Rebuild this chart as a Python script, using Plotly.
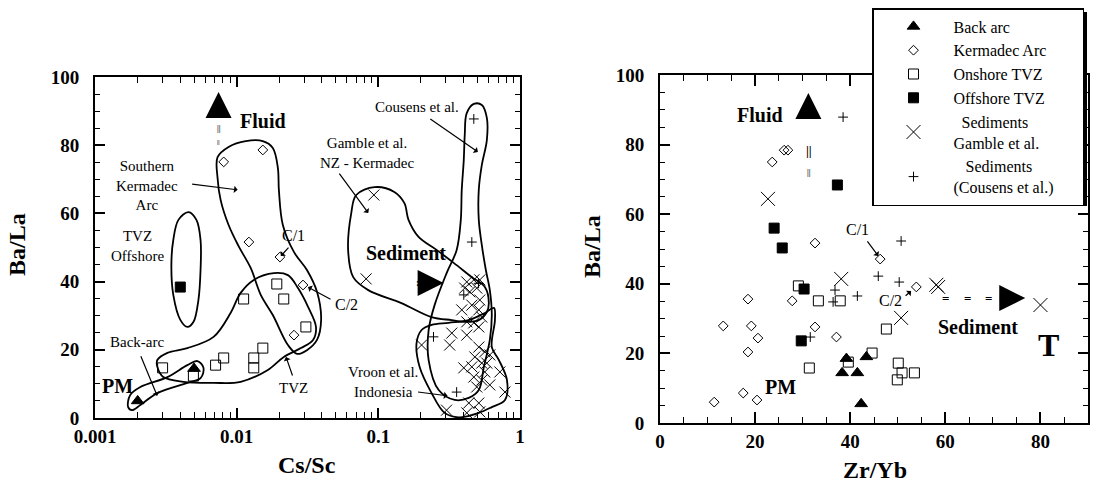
import numpy as np
import plotly.graph_objects as go

FONT = "Liberation Serif"

# ---------------- Left panel: Cs/Sc vs Ba/La ----------------
L_backarc_x = [0.002, 0.005]
L_backarc_y = [5.0, 14.5]
L_kermadec_x = [0.0081, 0.0153, 0.0122, 0.0202, 0.0294, 0.0254]
L_kermadec_y = [75.1, 78.6, 51.6, 47.2, 39.0, 24.3]
L_onshore_x = [0.0030, 0.00495, 0.0071, 0.0081, 0.0112, 0.0132, 0.0132, 0.0153, 0.0192, 0.0215, 0.0308]
L_onshore_y = [14.7, 12.3, 15.5, 17.6, 34.9, 17.6, 14.7, 20.5, 39.3, 34.9, 26.7]
L_offshore_x = [0.004]
L_offshore_y = [38.4]
L_sed_x = [0.093, 0.082,
           0.421, 0.472, 0.520, 0.407, 0.495, 0.442, 0.520, 0.457, 0.388, 0.512,
           0.537, 0.421, 0.472, 0.330, 0.421, 0.512, 0.202, 0.319, 0.512, 0.564,
           0.480, 0.612, 0.537, 0.457, 0.583, 0.401, 0.564, 0.721, 0.472, 0.537,
           0.612, 0.783, 0.495, 0.435, 0.512, 0.520, 0.303, 0.421]
L_sed_y = [65.4, 40.8,
           39.9, 40.5, 40.5, 38.1, 38.1, 37.0, 34.6, 33.1, 31.7, 31.7,
           29.6, 28.2, 27.9, 24.9, 24.3, 26.7, 21.4, 21.4, 20.8, 19.4,
           17.9, 18.5, 16.1, 15.0, 16.1, 14.7, 13.5, 13.5, 12.0, 11.1,
           9.7, 7.6, 9.1, 4.4, 4.4, 1.8, 2.3, 1.5]
L_cousens_x = [0.472, 0.457, 0.401, 0.510, 0.245, 0.357]
L_cousens_y = [87.7, 51.6, 36.1, 39.5, 23.8, 7.6]

# field outlines (left panel), in data units
F_offshore_x = [0.00457, 0.0052, 0.00556, 0.00556, 0.00537, 0.00496, 0.00449, 0.00401, 0.00357, 0.00346, 0.00357, 0.00388, 0.00457]
F_offshore_y = [60.4, 58.1, 52.2, 43.4, 34.6, 28.2, 26.7, 28.7, 36.1, 44.9, 52.2, 58.1, 60.4]
F_kermadec_x = [0.00733, 0.00877, 0.01159, 0.01528, 0.01799, 0.01954, 0.01986, 0.02118, 0.02535, 0.03133, 0.0369,
                0.03945, 0.0369, 0.03133, 0.02667, 0.02301, 0.01799, 0.01479, 0.01256, 0.01032, 0.00877, 0.00771, 0.00733, 0.00733]
F_kermadec_y = [76.5, 79.5, 81.2, 81.2, 79.2, 73.3, 66.9, 56.6, 48.7, 43.4, 37.0,
                28.7, 22.9, 19.9, 18.8, 21.4, 30.2, 36.1, 44.0, 50.4, 56.6, 63.9, 70.4, 76.5]
F_tvz_x = [0.002754, 0.003245, 0.004487, 0.006871, 0.009057, 0.01067, 0.01321, 0.01828, 0.02301, 0.0271, 0.0319,
           0.0363, 0.0346, 0.0284, 0.02153, 0.0166, 0.01067, 0.006871, 0.004207, 0.003034, 0.002754, 0.002754]
F_tvz_y = [17.0, 19.1, 20.5, 23.8, 30.8, 36.7, 40.5, 42.5, 41.9, 38.1, 32.6,
           26.7, 22.9, 20.5, 17.9, 14.1, 10.6, 10.3, 10.6, 12.0, 15.0, 17.0]
F_backarc_x = [0.001714, 0.00177, 0.00209, 0.003245, 0.004487, 0.005284, 0.005834, 0.00556, 0.004487, 0.002754, 0.00209, 0.001828, 0.001714]
F_backarc_y = [3.2, 6.7, 9.1, 12.0, 15.5, 16.7, 14.7, 11.7, 10.3, 7.3, 3.8, 2.3, 3.2]
F_gamble_x = [0.0698, 0.0938, 0.1297, 0.1528, 0.1633, 0.1923, 0.2576, 0.3404, 0.4571, 0.5649, 0.6026,
              0.5834, 0.5117, 0.4074, 0.3296, 0.2377, 0.1455, 0.0849, 0.0665, 0.0612, 0.0644, 0.0698]
F_gamble_y = [65.4, 67.7, 66.3, 63.0, 58.1, 53.1, 49.3, 45.5, 41.3, 38.4, 33.7,
              31.1, 28.7, 28.2, 28.7, 29.6, 33.7, 37.5, 41.3, 49.3, 60.1, 65.4]
F_cousens_x = [0.4207, 0.4721, 0.5377, 0.5834, 0.5834, 0.5377, 0.5117, 0.5117, 0.5377, 0.574, 0.6124, 0.6324, 0.6124,
               0.5559, 0.5117, 0.4345, 0.3459, 0.2667, 0.2265, 0.2265, 0.2495, 0.3034, 0.3573, 0.382, 0.388, 0.401, 0.4074, 0.4207]
F_cousens_y = [89.4, 92.1, 91.8, 88.0, 81.5, 74.2, 66.9, 58.1, 50.7, 43.4, 37.5, 30.2, 22.9,
               15.0, 8.2, 5.9, 5.3, 8.2, 17.0, 25.8, 33.1, 42.5, 49.3, 58.1, 66.9, 75.7, 83.0, 89.4]
F_vroon_x = [0.1862, 0.202, 0.2377, 0.3133, 0.4345, 0.5649, 0.6546, 0.6653, 0.6324, 0.7098, 0.8091, 0.7834,
             0.6324, 0.5117, 0.369, 0.2938, 0.2377, 0.1955, 0.1862]
F_vroon_y = [22.0, 25.8, 27.3, 27.9, 28.7, 30.8, 32.3, 28.7, 20.8, 17.0, 11.1, 5.3,
             3.2, 1.5, 0.2, 1.5, 7.3, 15.0, 22.0]

# ---------------- Right panel: Zr/Yb vs Ba/La ----------------
R_backarc_x = [38.3, 41.5, 43.4, 42.3, 39.2]
R_backarc_y = [14.4, 14.4, 19.0, 5.5, 18.5]
R_kermadec_x = [23.6, 26.1, 26.9, 32.6, 13.3, 18.5, 19.2, 20.6, 18.5, 11.4, 17.5, 20.4, 27.8, 32.6, 37.1, 46.3, 53.9]
R_kermadec_y = [75.0, 78.4, 78.4, 51.7, 27.9, 35.6, 27.9, 24.4, 20.4, 6.0, 8.6, 6.6, 35.1, 27.6, 24.7, 47.1, 39.1]
R_onshore_x = [29.1, 33.3, 31.4, 37.9, 39.6, 44.6, 47.6, 50.1, 50.9, 49.9, 53.5]
R_onshore_y = [39.4, 35.1, 15.8, 35.1, 17.5, 20.1, 27.0, 17.2, 14.4, 12.4, 14.4]
R_offshore_x = [24.0, 25.7, 37.3, 30.3, 29.7]
R_offshore_y = [56.0, 50.3, 68.4, 38.5, 23.6]
R_gamble_x = [22.7, 38.1, 50.7, 58.1, 58.5, 80.0]
R_gamble_y = [64.4, 41.4, 30.2, 39.7, 39.1, 33.9]
R_cousens_x = [38.5, 50.7, 45.9, 50.3, 41.5, 36.8, 36.4, 31.6]
R_cousens_y = [87.9, 52.3, 42.2, 40.5, 36.5, 38.2, 34.8, 24.7]

# ticks / labels
L_xtickvals = [0.001, 0.01, 0.1, 1]
L_xticktext = ["0.001", "0.01", "0.1", "1"]
L_xminor = [m * d for d in (0.001, 0.01, 0.1) for m in range(2, 10)]
Y_tickvals = [0, 20, 40, 60, 80, 100]
R_xtickvals = [0, 20, 40, 60, 80]

legend_names = ["Back arc", "Kermadec Arc", "Onshore TVZ", "Offshore TVZ",
                "&nbsp;&nbsp;Sediments<br>Gamble et al.",
                "&nbsp;&nbsp;&nbsp;Sediments<br>(Cousens et al.)&nbsp;&nbsp;&nbsp;&nbsp;&nbsp;\u2009"]

fig = go.Figure()


def pts(x, y, xa, ya, symbol, size, name=None, show=False):
    m = dict(symbol=symbol, size=size, color="black", line=dict(color="black", width=1))
    fig.add_trace(go.Scatter(x=x, y=y, xaxis=xa, yaxis=ya, mode="markers", marker=m,
                             name=name, showlegend=show))


def outline(x, y):
    fig.add_trace(go.Scatter(x=x, y=y, xaxis="x", yaxis="y", mode="lines",
                             line=dict(color="black", width=1.8, shape="spline", smoothing=1.0),
                             showlegend=False, hoverinfo="skip"))


# right panel (legend)
pts(R_backarc_x, R_backarc_y, "x2", "y2", "triangle-up", 11, legend_names[0], True)
pts(R_kermadec_x, R_kermadec_y, "x2", "y2", "diamond-open", 7.5, legend_names[1], True)
pts(R_onshore_x, R_onshore_y, "x2", "y2", "square-open", 10, legend_names[2], True)
pts(R_offshore_x, R_offshore_y, "x2", "y2", "square", 10, legend_names[3], True)
pts(R_gamble_x, R_gamble_y, "x2", "y2", "x-thin-open", 14, legend_names[4], True)
pts(R_cousens_x, R_cousens_y, "x2", "y2", "cross-thin-open", 7, legend_names[5], True)

# left panel
for fx, fy in [(F_offshore_x, F_offshore_y), (F_kermadec_x, F_kermadec_y), (F_tvz_x, F_tvz_y),
               (F_backarc_x, F_backarc_y), (F_gamble_x, F_gamble_y), (F_cousens_x, F_cousens_y),
               (F_vroon_x, F_vroon_y)]:
    outline(fx, fy)
pts(L_backarc_x, L_backarc_y, "x", "y", "triangle-up", 11)
pts(L_kermadec_x, L_kermadec_y, "x", "y", "diamond-open", 7.5)
pts(L_onshore_x, L_onshore_y, "x", "y", "square-open", 10)
pts(L_offshore_x, L_offshore_y, "x", "y", "square", 10)
pts(L_sed_x, L_sed_y, "x", "y", "x-thin-open", 11)
pts(L_cousens_x, L_cousens_y, "x", "y", "cross-thin-open", 7)

anns = []


def txt(panel, x, y, text, size=15, bold=False):
    xr, yr = ("x", "y") if panel == "L" else ("x2", "y2")
    xv = np.log10(x) if panel == "L" else x
    anns.append(dict(x=xv, y=y, xref=xr, yref=yr, text=text, showarrow=False,
                     xanchor="center", yanchor="middle",
                     font=dict(family=FONT, size=size, color="black", weight="bold" if bold else "normal"),
                     align="center"))


def arrow(panel, x, y, ax, ay, head=1, size=1.0, width=1.2):
    xr, yr = ("x", "y") if panel == "L" else ("x2", "y2")
    xv = np.log10(x) if panel == "L" else x
    anns.append(dict(x=xv, y=y, xref=xr, yref=yr, text="", showarrow=True, ax=ax, ay=ay,
                     arrowhead=head, arrowsize=size, arrowwidth=width, arrowcolor="black"))


# left panel annotations
txt("L", 0.0153, 87.1, "Fluid", 20, True)
arrow("L", 0.00745, 95.6, 0, 26, head=2, size=2.6, width=2)
txt("L", 0.0075, 85.0, "||", 8, True)
txt("L", 0.0075, 80.8, "||", 6, True)
txt("L", 0.00234, 68.3, "Southern<br>Kermadec<br>Arc", 15)
arrow("L", 0.01016, 66.9, -47, -6)
txt("L", 0.00199, 50.4, "TVZ<br>Offshore", 15)
txt("L", 0.00199, 22.3, "Back-arc", 15)
arrow("L", 0.00275, 6.5, -17, -41)
txt("L", 0.00143, 9.4, "PM", 20, True)
txt("L", 0.02535, 53.4, "C/1", 16)
arrow("L", 0.0205, 47.5, 9, -10)
txt("L", 0.0593, 33.4, "C/2", 16)
arrow("L", 0.0319, 38.4, 24, 13)
txt("L", 0.02535, 8.8, "TVZ", 15)
arrow("L", 0.0223, 17.9, 7, 20)
txt("L", 0.0836, 77.7, "Gamble et al.<br>NZ - Kermadec", 15)
arrow("L", 0.0849, 60.1, -30, -41)
txt("L", 0.186, 91.2, "Cousens et al.", 15)
arrow("L", 0.504, 78.0, -49, -34)
txt("L", 0.158, 48.4, "Sediment", 20, True)
arrow("L", 0.289, 39.6, -26, 0, head=2, size=2.6, width=2)
txt("L", 0.190, 39.6, ":", 10, True)
txt("L", 0.234, 39.6, "=", 10, True)
txt("L", 0.108, 10.6, "Vroon et al.<br>Indonesia", 15)
arrow("L", 0.308, 6.5, -31, -4)

# right panel annotations
txt("R", 21.1, 88.5, "Fluid", 20, True)
arrow("R", 31.2, 94.8, 0, 26, head=2, size=2.6, width=2)
txt("R", 31.3, 78.4, "||", 13, True)
txt("R", 31.3, 72.1, "||", 8, True)
txt("R", 41.5, 55.5, "C/1", 16)
arrow("R", 45.9, 48.0, -12, -16)
txt("R", 48.4, 35.3, "C/2", 16)
arrow("R", 52.8, 37.9, -7, 6)
txt("R", 66.9, 27.6, "Sediment", 20, True)
arrow("R", 76.8, 35.9, -26, 0, head=2, size=2.6, width=2)
txt("R", 60.0, 35.9, "=", 13, True)
txt("R", 64.6, 35.9, "=", 13, True)
txt("R", 69.0, 35.9, "=", 13, True)
txt("R", 81.7, 22.4, "T", 32, True)
txt("R", 25.3, 10.3, "PM", 20, True)

# axis titles
for xp, yp, t, rot in [(307 / 1096, 1 - 465 / 483, "Cs/Sc", 0), (875 / 1096, 1 - 470 / 483, "Zr/Yb", 0),
                       (17 / 1096, 1 - 245 / 483, "Ba/La", -90), (592 / 1096, 1 - 247 / 483, "Ba/La", -90)]:
    anns.append(dict(x=xp, y=yp, xref="paper", yref="paper", text=t, showarrow=False, textangle=rot,
                     xanchor="center", yanchor="middle",
                     font=dict(family=FONT, size=24, color="black", weight="bold")))

tickfont = dict(family=FONT, size=19, color="black", weight="bold")
common = dict(showline=True, linewidth=2, linecolor="black", mirror="ticks", ticks="inside",
              tickcolor="black", tickwidth=1.5, showgrid=False, zeroline=False, tickfont=tickfont,
              automargin=False)

fig.update_layout(
    width=1096, height=483, margin=dict(l=0, r=0, t=0, b=0, pad=0, autoexpand=False),
    paper_bgcolor="white", plot_bgcolor="white",
    xaxis=dict(domain=[95 / 1096, 520 / 1096], anchor="y", type="log", range=[-3, 0],
               tickmode="array", tickvals=L_xtickvals, ticktext=L_xticktext, ticklen=10,
               minor=dict(tickmode="array", tickvals=L_xminor, ticks="inside", ticklen=6,
                          tickwidth=1.2, tickcolor="black", showgrid=False), **common),
    yaxis=dict(domain=[1 - 418 / 483, 1 - 77 / 483], anchor="x", range=[0, 100],
               tickmode="array", tickvals=Y_tickvals, ticklen=10, ticklabelstandoff=10,
               minor=dict(dtick=5, ticks="inside", ticklen=5, tickwidth=1.2, tickcolor="black", showgrid=False),
               **common),
    xaxis2=dict(domain=[660 / 1096, 1088 / 1096], anchor="y2", range=[0, 90],
                tickmode="array", tickvals=R_xtickvals, ticklen=11,
                minor=dict(dtick=5, ticks="inside", ticklen=6, tickwidth=1.2, tickcolor="black", showgrid=False),
                **common),
    yaxis2=dict(domain=[1 - 423 / 483, 1 - 75 / 483], anchor="x2", range=[0, 100],
                tickmode="array", tickvals=Y_tickvals, ticklen=10, ticklabelstandoff=10,
                minor=dict(dtick=5, ticks="inside", ticklen=5, tickwidth=1.2, tickcolor="black", showgrid=False),
                **common),
    showlegend=True,
    legend=dict(x=872 / 1096, y=1 - 8 / 483, xanchor="left", yanchor="top",
                bgcolor="white", bordercolor="black", borderwidth=1.5,
                font=dict(family=FONT, size=16, color="black"), itemwidth=70,
                tracegroupgap=0),
    annotations=anns,
    shapes=[dict(type="rect", xref="paper", yref="paper", x0=876 / 1096, x1=1087 / 1096,
                 y0=1 - 206 / 483, y1=1 - 12 / 483, fillcolor="black", line=dict(width=0), layer="above")],
)

fig.write_html("out.html")
